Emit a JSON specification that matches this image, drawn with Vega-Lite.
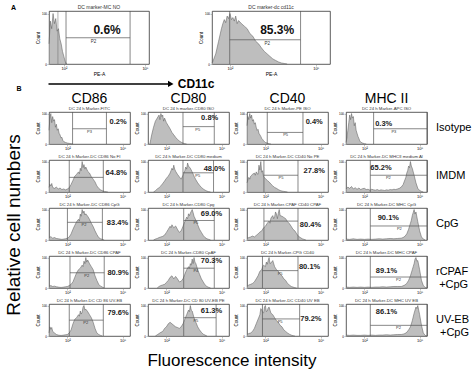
{
 "$schema": "https://vega.github.io/schema/vega-lite/v6.json",
 "background": "white",
 "padding": 4,
 "config": {"font": "Liberation Sans", "view": {"stroke": "#333", "strokeWidth": 0.8}, "axis": {"grid": false, "domain": false}},
 "spacing": 0,
 "datasets": {
  "b": [
   {"m":"CD86","t":"Isotype","x":1,"c":45},{"m":"CD86","t":"Isotype","x":1.05,"c":85},{"m":"CD86","t":"Isotype","x":1.1,"c":100},{"m":"CD86","t":"Isotype","x":1.15,"c":70},{"m":"CD86","t":"Isotype","x":1.2,"c":90},{"m":"CD86","t":"Isotype","x":1.25,"c":75},{"m":"CD86","t":"Isotype","x":1.3,"c":80},{"m":"CD86","t":"Isotype","x":1.35,"c":55},{"m":"CD86","t":"Isotype","x":1.4,"c":65},{"m":"CD86","t":"Isotype","x":1.45,"c":45},{"m":"CD86","t":"Isotype","x":1.5,"c":50},{"m":"CD86","t":"Isotype","x":1.55,"c":35},{"m":"CD86","t":"Isotype","x":1.6,"c":30},{"m":"CD86","t":"Isotype","x":1.65,"c":20},{"m":"CD86","t":"Isotype","x":1.7,"c":22},{"m":"CD86","t":"Isotype","x":1.75,"c":12},{"m":"CD86","t":"Isotype","x":1.8,"c":8},{"m":"CD86","t":"Isotype","x":1.9,"c":5},{"m":"CD86","t":"Isotype","x":2,"c":3},{"m":"CD86","t":"Isotype","x":2.1,"c":2},{"m":"CD86","t":"Isotype","x":2.2,"c":1},{"m":"CD86","t":"Isotype","x":2.3,"c":0},
   {"m":"CD80","t":"Isotype","x":1.1,"c":0},{"m":"CD80","t":"Isotype","x":1.15,"c":15},{"m":"CD80","t":"Isotype","x":1.2,"c":30},{"m":"CD80","t":"Isotype","x":1.3,"c":55},{"m":"CD80","t":"Isotype","x":1.4,"c":75},{"m":"CD80","t":"Isotype","x":1.5,"c":85},{"m":"CD80","t":"Isotype","x":1.6,"c":95},{"m":"CD80","t":"Isotype","x":1.65,"c":80},{"m":"CD80","t":"Isotype","x":1.7,"c":100},{"m":"CD80","t":"Isotype","x":1.75,"c":90},{"m":"CD80","t":"Isotype","x":1.8,"c":95},{"m":"CD80","t":"Isotype","x":1.85,"c":75},{"m":"CD80","t":"Isotype","x":1.9,"c":85},{"m":"CD80","t":"Isotype","x":2,"c":70},{"m":"CD80","t":"Isotype","x":2.1,"c":60},{"m":"CD80","t":"Isotype","x":2.2,"c":50},{"m":"CD80","t":"Isotype","x":2.3,"c":38},{"m":"CD80","t":"Isotype","x":2.4,"c":30},{"m":"CD80","t":"Isotype","x":2.5,"c":22},{"m":"CD80","t":"Isotype","x":2.6,"c":15},{"m":"CD80","t":"Isotype","x":2.7,"c":10},{"m":"CD80","t":"Isotype","x":2.8,"c":6},{"m":"CD80","t":"Isotype","x":2.9,"c":3},{"m":"CD80","t":"Isotype","x":3,"c":1},{"m":"CD80","t":"Isotype","x":3.1,"c":0},
   {"m":"CD40","t":"Isotype","x":1,"c":60},{"m":"CD40","t":"Isotype","x":1.05,"c":90},{"m":"CD40","t":"Isotype","x":1.1,"c":80},{"m":"CD40","t":"Isotype","x":1.15,"c":100},{"m":"CD40","t":"Isotype","x":1.2,"c":85},{"m":"CD40","t":"Isotype","x":1.25,"c":95},{"m":"CD40","t":"Isotype","x":1.3,"c":75},{"m":"CD40","t":"Isotype","x":1.35,"c":80},{"m":"CD40","t":"Isotype","x":1.4,"c":65},{"m":"CD40","t":"Isotype","x":1.45,"c":70},{"m":"CD40","t":"Isotype","x":1.5,"c":55},{"m":"CD40","t":"Isotype","x":1.55,"c":45},{"m":"CD40","t":"Isotype","x":1.6,"c":48},{"m":"CD40","t":"Isotype","x":1.65,"c":35},{"m":"CD40","t":"Isotype","x":1.7,"c":30},{"m":"CD40","t":"Isotype","x":1.75,"c":25},{"m":"CD40","t":"Isotype","x":1.8,"c":18},{"m":"CD40","t":"Isotype","x":1.85,"c":15},{"m":"CD40","t":"Isotype","x":1.9,"c":10},{"m":"CD40","t":"Isotype","x":1.95,"c":8},{"m":"CD40","t":"Isotype","x":2,"c":5},{"m":"CD40","t":"Isotype","x":2.1,"c":3},{"m":"CD40","t":"Isotype","x":2.2,"c":1},{"m":"CD40","t":"Isotype","x":2.3,"c":0},
   {"m":"MHC II","t":"Isotype","x":1,"c":5},{"m":"MHC II","t":"Isotype","x":1.05,"c":20},{"m":"MHC II","t":"Isotype","x":1.1,"c":45},{"m":"MHC II","t":"Isotype","x":1.15,"c":70},{"m":"MHC II","t":"Isotype","x":1.2,"c":95},{"m":"MHC II","t":"Isotype","x":1.25,"c":80},{"m":"MHC II","t":"Isotype","x":1.3,"c":100},{"m":"MHC II","t":"Isotype","x":1.35,"c":85},{"m":"MHC II","t":"Isotype","x":1.4,"c":90},{"m":"MHC II","t":"Isotype","x":1.45,"c":60},{"m":"MHC II","t":"Isotype","x":1.5,"c":70},{"m":"MHC II","t":"Isotype","x":1.55,"c":45},{"m":"MHC II","t":"Isotype","x":1.6,"c":35},{"m":"MHC II","t":"Isotype","x":1.65,"c":25},{"m":"MHC II","t":"Isotype","x":1.7,"c":18},{"m":"MHC II","t":"Isotype","x":1.75,"c":10},{"m":"MHC II","t":"Isotype","x":1.8,"c":6},{"m":"MHC II","t":"Isotype","x":1.9,"c":3},{"m":"MHC II","t":"Isotype","x":2,"c":1},{"m":"MHC II","t":"Isotype","x":2.1,"c":0},

   {"m":"CD86","t":"IMDM","x":1,"c":15},{"m":"CD86","t":"IMDM","x":1.05,"c":25},{"m":"CD86","t":"IMDM","x":1.1,"c":20},{"m":"CD86","t":"IMDM","x":1.15,"c":28},{"m":"CD86","t":"IMDM","x":1.2,"c":15},{"m":"CD86","t":"IMDM","x":1.3,"c":12},{"m":"CD86","t":"IMDM","x":1.4,"c":16},{"m":"CD86","t":"IMDM","x":1.5,"c":10},{"m":"CD86","t":"IMDM","x":1.6,"c":13},{"m":"CD86","t":"IMDM","x":1.7,"c":8},{"m":"CD86","t":"IMDM","x":1.8,"c":10},{"m":"CD86","t":"IMDM","x":1.9,"c":7},{"m":"CD86","t":"IMDM","x":2,"c":10},{"m":"CD86","t":"IMDM","x":2.1,"c":14},{"m":"CD86","t":"IMDM","x":2.2,"c":25},{"m":"CD86","t":"IMDM","x":2.3,"c":38},{"m":"CD86","t":"IMDM","x":2.4,"c":52},{"m":"CD86","t":"IMDM","x":2.5,"c":58},{"m":"CD86","t":"IMDM","x":2.6,"c":66},{"m":"CD86","t":"IMDM","x":2.65,"c":60},{"m":"CD86","t":"IMDM","x":2.7,"c":78},{"m":"CD86","t":"IMDM","x":2.75,"c":70},{"m":"CD86","t":"IMDM","x":2.8,"c":100},{"m":"CD86","t":"IMDM","x":2.85,"c":80},{"m":"CD86","t":"IMDM","x":2.9,"c":90},{"m":"CD86","t":"IMDM","x":2.95,"c":75},{"m":"CD86","t":"IMDM","x":3,"c":82},{"m":"CD86","t":"IMDM","x":3.1,"c":68},{"m":"CD86","t":"IMDM","x":3.2,"c":62},{"m":"CD86","t":"IMDM","x":3.3,"c":50},{"m":"CD86","t":"IMDM","x":3.4,"c":42},{"m":"CD86","t":"IMDM","x":3.5,"c":33},{"m":"CD86","t":"IMDM","x":3.6,"c":20},{"m":"CD86","t":"IMDM","x":3.7,"c":12},{"m":"CD86","t":"IMDM","x":3.8,"c":7},{"m":"CD86","t":"IMDM","x":3.9,"c":4},{"m":"CD86","t":"IMDM","x":4,"c":2},{"m":"CD86","t":"IMDM","x":4.2,"c":0},
   {"m":"CD80","t":"IMDM","x":1.3,"c":0},{"m":"CD80","t":"IMDM","x":1.4,"c":4},{"m":"CD80","t":"IMDM","x":1.5,"c":10},{"m":"CD80","t":"IMDM","x":1.6,"c":14},{"m":"CD80","t":"IMDM","x":1.7,"c":20},{"m":"CD80","t":"IMDM","x":1.8,"c":28},{"m":"CD80","t":"IMDM","x":1.9,"c":36},{"m":"CD80","t":"IMDM","x":2,"c":45},{"m":"CD80","t":"IMDM","x":2.1,"c":52},{"m":"CD80","t":"IMDM","x":2.2,"c":62},{"m":"CD80","t":"IMDM","x":2.25,"c":70},{"m":"CD80","t":"IMDM","x":2.3,"c":78},{"m":"CD80","t":"IMDM","x":2.35,"c":72},{"m":"CD80","t":"IMDM","x":2.4,"c":88},{"m":"CD80","t":"IMDM","x":2.45,"c":75},{"m":"CD80","t":"IMDM","x":2.5,"c":68},{"m":"CD80","t":"IMDM","x":2.6,"c":58},{"m":"CD80","t":"IMDM","x":2.7,"c":50},{"m":"CD80","t":"IMDM","x":2.8,"c":42},{"m":"CD80","t":"IMDM","x":2.9,"c":55},{"m":"CD80","t":"IMDM","x":3,"c":70},{"m":"CD80","t":"IMDM","x":3.05,"c":82},{"m":"CD80","t":"IMDM","x":3.1,"c":75},{"m":"CD80","t":"IMDM","x":3.15,"c":95},{"m":"CD80","t":"IMDM","x":3.2,"c":85},{"m":"CD80","t":"IMDM","x":3.3,"c":78},{"m":"CD80","t":"IMDM","x":3.4,"c":66},{"m":"CD80","t":"IMDM","x":3.5,"c":52},{"m":"CD80","t":"IMDM","x":3.6,"c":40},{"m":"CD80","t":"IMDM","x":3.7,"c":30},{"m":"CD80","t":"IMDM","x":3.8,"c":22},{"m":"CD80","t":"IMDM","x":3.9,"c":15},{"m":"CD80","t":"IMDM","x":4,"c":10},{"m":"CD80","t":"IMDM","x":4.1,"c":6},{"m":"CD80","t":"IMDM","x":4.2,"c":3},{"m":"CD80","t":"IMDM","x":4.3,"c":1},{"m":"CD80","t":"IMDM","x":4.4,"c":0},
   {"m":"CD40","t":"IMDM","x":1,"c":30},{"m":"CD40","t":"IMDM","x":1.05,"c":40},{"m":"CD40","t":"IMDM","x":1.1,"c":48},{"m":"CD40","t":"IMDM","x":1.15,"c":42},{"m":"CD40","t":"IMDM","x":1.2,"c":52},{"m":"CD40","t":"IMDM","x":1.3,"c":58},{"m":"CD40","t":"IMDM","x":1.4,"c":62},{"m":"CD40","t":"IMDM","x":1.45,"c":55},{"m":"CD40","t":"IMDM","x":1.5,"c":66},{"m":"CD40","t":"IMDM","x":1.55,"c":60},{"m":"CD40","t":"IMDM","x":1.6,"c":58},{"m":"CD40","t":"IMDM","x":1.65,"c":88},{"m":"CD40","t":"IMDM","x":1.7,"c":72},{"m":"CD40","t":"IMDM","x":1.75,"c":100},{"m":"CD40","t":"IMDM","x":1.8,"c":65},{"m":"CD40","t":"IMDM","x":1.85,"c":70},{"m":"CD40","t":"IMDM","x":1.9,"c":50},{"m":"CD40","t":"IMDM","x":2,"c":44},{"m":"CD40","t":"IMDM","x":2.1,"c":38},{"m":"CD40","t":"IMDM","x":2.2,"c":33},{"m":"CD40","t":"IMDM","x":2.3,"c":26},{"m":"CD40","t":"IMDM","x":2.4,"c":20},{"m":"CD40","t":"IMDM","x":2.5,"c":15},{"m":"CD40","t":"IMDM","x":2.6,"c":12},{"m":"CD40","t":"IMDM","x":2.7,"c":8},{"m":"CD40","t":"IMDM","x":2.8,"c":5},{"m":"CD40","t":"IMDM","x":2.9,"c":3},{"m":"CD40","t":"IMDM","x":3,"c":2},{"m":"CD40","t":"IMDM","x":3.2,"c":0},
   {"m":"MHC II","t":"IMDM","x":1,"c":10},{"m":"MHC II","t":"IMDM","x":1.1,"c":16},{"m":"MHC II","t":"IMDM","x":1.2,"c":12},{"m":"MHC II","t":"IMDM","x":1.3,"c":18},{"m":"MHC II","t":"IMDM","x":1.4,"c":10},{"m":"MHC II","t":"IMDM","x":1.5,"c":14},{"m":"MHC II","t":"IMDM","x":1.6,"c":9},{"m":"MHC II","t":"IMDM","x":1.7,"c":13},{"m":"MHC II","t":"IMDM","x":1.8,"c":8},{"m":"MHC II","t":"IMDM","x":1.9,"c":11},{"m":"MHC II","t":"IMDM","x":2,"c":12},{"m":"MHC II","t":"IMDM","x":2.1,"c":8},{"m":"MHC II","t":"IMDM","x":2.2,"c":9},{"m":"MHC II","t":"IMDM","x":2.3,"c":6},{"m":"MHC II","t":"IMDM","x":2.4,"c":9},{"m":"MHC II","t":"IMDM","x":2.5,"c":7},{"m":"MHC II","t":"IMDM","x":2.6,"c":6},{"m":"MHC II","t":"IMDM","x":2.7,"c":8},{"m":"MHC II","t":"IMDM","x":2.8,"c":5},{"m":"MHC II","t":"IMDM","x":2.9,"c":7},{"m":"MHC II","t":"IMDM","x":3,"c":6},{"m":"MHC II","t":"IMDM","x":3.1,"c":5},{"m":"MHC II","t":"IMDM","x":3.2,"c":7},{"m":"MHC II","t":"IMDM","x":3.3,"c":6},{"m":"MHC II","t":"IMDM","x":3.4,"c":8},{"m":"MHC II","t":"IMDM","x":3.5,"c":7},{"m":"MHC II","t":"IMDM","x":3.6,"c":9},{"m":"MHC II","t":"IMDM","x":3.7,"c":8},{"m":"MHC II","t":"IMDM","x":3.8,"c":10},{"m":"MHC II","t":"IMDM","x":3.9,"c":12},{"m":"MHC II","t":"IMDM","x":4,"c":16},{"m":"MHC II","t":"IMDM","x":4.1,"c":24},{"m":"MHC II","t":"IMDM","x":4.2,"c":40},{"m":"MHC II","t":"IMDM","x":4.25,"c":48},{"m":"MHC II","t":"IMDM","x":4.3,"c":62},{"m":"MHC II","t":"IMDM","x":4.35,"c":70},{"m":"MHC II","t":"IMDM","x":4.4,"c":85},{"m":"MHC II","t":"IMDM","x":4.45,"c":80},{"m":"MHC II","t":"IMDM","x":4.5,"c":100},{"m":"MHC II","t":"IMDM","x":4.55,"c":85},{"m":"MHC II","t":"IMDM","x":4.6,"c":78},{"m":"MHC II","t":"IMDM","x":4.7,"c":55},{"m":"MHC II","t":"IMDM","x":4.8,"c":30},{"m":"MHC II","t":"IMDM","x":4.9,"c":12},{"m":"MHC II","t":"IMDM","x":5,"c":5},{"m":"MHC II","t":"IMDM","x":5.1,"c":2},{"m":"MHC II","t":"IMDM","x":5.2,"c":0},

   {"m":"CD86","t":"CpG","x":1,"c":8},{"m":"CD86","t":"CpG","x":1.1,"c":11},{"m":"CD86","t":"CpG","x":1.2,"c":6},{"m":"CD86","t":"CpG","x":1.3,"c":8},{"m":"CD86","t":"CpG","x":1.4,"c":5},{"m":"CD86","t":"CpG","x":1.5,"c":4},{"m":"CD86","t":"CpG","x":1.6,"c":3},{"m":"CD86","t":"CpG","x":1.7,"c":2},{"m":"CD86","t":"CpG","x":1.8,"c":3},{"m":"CD86","t":"CpG","x":1.9,"c":4},{"m":"CD86","t":"CpG","x":2,"c":6},{"m":"CD86","t":"CpG","x":2.1,"c":10},{"m":"CD86","t":"CpG","x":2.2,"c":20},{"m":"CD86","t":"CpG","x":2.3,"c":35},{"m":"CD86","t":"CpG","x":2.4,"c":48},{"m":"CD86","t":"CpG","x":2.5,"c":60},{"m":"CD86","t":"CpG","x":2.6,"c":68},{"m":"CD86","t":"CpG","x":2.65,"c":62},{"m":"CD86","t":"CpG","x":2.7,"c":85},{"m":"CD86","t":"CpG","x":2.75,"c":78},{"m":"CD86","t":"CpG","x":2.8,"c":100},{"m":"CD86","t":"CpG","x":2.85,"c":88},{"m":"CD86","t":"CpG","x":2.9,"c":95},{"m":"CD86","t":"CpG","x":2.95,"c":82},{"m":"CD86","t":"CpG","x":3,"c":86},{"m":"CD86","t":"CpG","x":3.1,"c":78},{"m":"CD86","t":"CpG","x":3.2,"c":68},{"m":"CD86","t":"CpG","x":3.3,"c":55},{"m":"CD86","t":"CpG","x":3.4,"c":44},{"m":"CD86","t":"CpG","x":3.5,"c":30},{"m":"CD86","t":"CpG","x":3.6,"c":18},{"m":"CD86","t":"CpG","x":3.7,"c":8},{"m":"CD86","t":"CpG","x":3.8,"c":4},{"m":"CD86","t":"CpG","x":3.9,"c":2},{"m":"CD86","t":"CpG","x":4,"c":0},
   {"m":"CD80","t":"CpG","x":1.3,"c":0},{"m":"CD80","t":"CpG","x":1.4,"c":3},{"m":"CD80","t":"CpG","x":1.5,"c":5},{"m":"CD80","t":"CpG","x":1.6,"c":8},{"m":"CD80","t":"CpG","x":1.7,"c":10},{"m":"CD80","t":"CpG","x":1.8,"c":12},{"m":"CD80","t":"CpG","x":1.9,"c":16},{"m":"CD80","t":"CpG","x":2,"c":25},{"m":"CD80","t":"CpG","x":2.1,"c":35},{"m":"CD80","t":"CpG","x":2.2,"c":45},{"m":"CD80","t":"CpG","x":2.25,"c":40},{"m":"CD80","t":"CpG","x":2.3,"c":50},{"m":"CD80","t":"CpG","x":2.4,"c":40},{"m":"CD80","t":"CpG","x":2.5,"c":46},{"m":"CD80","t":"CpG","x":2.6,"c":35},{"m":"CD80","t":"CpG","x":2.7,"c":25},{"m":"CD80","t":"CpG","x":2.8,"c":30},{"m":"CD80","t":"CpG","x":2.9,"c":45},{"m":"CD80","t":"CpG","x":3,"c":60},{"m":"CD80","t":"CpG","x":3.1,"c":75},{"m":"CD80","t":"CpG","x":3.15,"c":70},{"m":"CD80","t":"CpG","x":3.2,"c":86},{"m":"CD80","t":"CpG","x":3.25,"c":80},{"m":"CD80","t":"CpG","x":3.3,"c":88},{"m":"CD80","t":"CpG","x":3.4,"c":100},{"m":"CD80","t":"CpG","x":3.45,"c":90},{"m":"CD80","t":"CpG","x":3.5,"c":78},{"m":"CD80","t":"CpG","x":3.6,"c":65},{"m":"CD80","t":"CpG","x":3.7,"c":50},{"m":"CD80","t":"CpG","x":3.8,"c":35},{"m":"CD80","t":"CpG","x":3.9,"c":25},{"m":"CD80","t":"CpG","x":4,"c":15},{"m":"CD80","t":"CpG","x":4.1,"c":8},{"m":"CD80","t":"CpG","x":4.2,"c":4},{"m":"CD80","t":"CpG","x":4.3,"c":2},{"m":"CD80","t":"CpG","x":4.4,"c":0},
   {"m":"CD40","t":"CpG","x":1,"c":5},{"m":"CD40","t":"CpG","x":1.1,"c":8},{"m":"CD40","t":"CpG","x":1.2,"c":10},{"m":"CD40","t":"CpG","x":1.3,"c":13},{"m":"CD40","t":"CpG","x":1.4,"c":10},{"m":"CD40","t":"CpG","x":1.5,"c":15},{"m":"CD40","t":"CpG","x":1.6,"c":20},{"m":"CD40","t":"CpG","x":1.7,"c":26},{"m":"CD40","t":"CpG","x":1.8,"c":30},{"m":"CD40","t":"CpG","x":1.9,"c":40},{"m":"CD40","t":"CpG","x":2,"c":45},{"m":"CD40","t":"CpG","x":2.1,"c":55},{"m":"CD40","t":"CpG","x":2.2,"c":62},{"m":"CD40","t":"CpG","x":2.25,"c":55},{"m":"CD40","t":"CpG","x":2.3,"c":72},{"m":"CD40","t":"CpG","x":2.4,"c":80},{"m":"CD40","t":"CpG","x":2.45,"c":70},{"m":"CD40","t":"CpG","x":2.5,"c":76},{"m":"CD40","t":"CpG","x":2.55,"c":92},{"m":"CD40","t":"CpG","x":2.6,"c":85},{"m":"CD40","t":"CpG","x":2.65,"c":70},{"m":"CD40","t":"CpG","x":2.7,"c":88},{"m":"CD40","t":"CpG","x":2.75,"c":100},{"m":"CD40","t":"CpG","x":2.8,"c":80},{"m":"CD40","t":"CpG","x":2.9,"c":78},{"m":"CD40","t":"CpG","x":3,"c":74},{"m":"CD40","t":"CpG","x":3.1,"c":70},{"m":"CD40","t":"CpG","x":3.2,"c":60},{"m":"CD40","t":"CpG","x":3.3,"c":54},{"m":"CD40","t":"CpG","x":3.4,"c":45},{"m":"CD40","t":"CpG","x":3.5,"c":35},{"m":"CD40","t":"CpG","x":3.6,"c":30},{"m":"CD40","t":"CpG","x":3.7,"c":20},{"m":"CD40","t":"CpG","x":3.8,"c":12},{"m":"CD40","t":"CpG","x":3.9,"c":8},{"m":"CD40","t":"CpG","x":4,"c":4},{"m":"CD40","t":"CpG","x":4.1,"c":2},{"m":"CD40","t":"CpG","x":4.2,"c":0},
   {"m":"MHC II","t":"CpG","x":1,"c":3},{"m":"MHC II","t":"CpG","x":1.2,"c":2},{"m":"MHC II","t":"CpG","x":1.4,"c":4},{"m":"MHC II","t":"CpG","x":1.6,"c":2},{"m":"MHC II","t":"CpG","x":1.8,"c":3},{"m":"MHC II","t":"CpG","x":2,"c":2},{"m":"MHC II","t":"CpG","x":2.2,"c":3},{"m":"MHC II","t":"CpG","x":2.4,"c":2},{"m":"MHC II","t":"CpG","x":2.6,"c":3},{"m":"MHC II","t":"CpG","x":2.8,"c":4},{"m":"MHC II","t":"CpG","x":3,"c":3},{"m":"MHC II","t":"CpG","x":3.2,"c":4},{"m":"MHC II","t":"CpG","x":3.4,"c":5},{"m":"MHC II","t":"CpG","x":3.6,"c":4},{"m":"MHC II","t":"CpG","x":3.8,"c":5},{"m":"MHC II","t":"CpG","x":4,"c":6},{"m":"MHC II","t":"CpG","x":4.1,"c":8},{"m":"MHC II","t":"CpG","x":4.2,"c":12},{"m":"MHC II","t":"CpG","x":4.3,"c":20},{"m":"MHC II","t":"CpG","x":4.4,"c":35},{"m":"MHC II","t":"CpG","x":4.5,"c":55},{"m":"MHC II","t":"CpG","x":4.55,"c":65},{"m":"MHC II","t":"CpG","x":4.6,"c":80},{"m":"MHC II","t":"CpG","x":4.65,"c":90},{"m":"MHC II","t":"CpG","x":4.7,"c":100},{"m":"MHC II","t":"CpG","x":4.75,"c":85},{"m":"MHC II","t":"CpG","x":4.8,"c":92},{"m":"MHC II","t":"CpG","x":4.9,"c":60},{"m":"MHC II","t":"CpG","x":5,"c":30},{"m":"MHC II","t":"CpG","x":5.1,"c":10},{"m":"MHC II","t":"CpG","x":5.2,"c":3},{"m":"MHC II","t":"CpG","x":5.3,"c":0},

   {"m":"CD86","t":"rCPAF|+CpG","x":1,"c":5},{"m":"CD86","t":"rCPAF|+CpG","x":1.1,"c":8},{"m":"CD86","t":"rCPAF|+CpG","x":1.2,"c":5},{"m":"CD86","t":"rCPAF|+CpG","x":1.3,"c":6},{"m":"CD86","t":"rCPAF|+CpG","x":1.4,"c":4},{"m":"CD86","t":"rCPAF|+CpG","x":1.5,"c":3},{"m":"CD86","t":"rCPAF|+CpG","x":1.6,"c":2},{"m":"CD86","t":"rCPAF|+CpG","x":1.7,"c":2},{"m":"CD86","t":"rCPAF|+CpG","x":1.8,"c":3},{"m":"CD86","t":"rCPAF|+CpG","x":1.9,"c":4},{"m":"CD86","t":"rCPAF|+CpG","x":2,"c":5},{"m":"CD86","t":"rCPAF|+CpG","x":2.1,"c":8},{"m":"CD86","t":"rCPAF|+CpG","x":2.2,"c":12},{"m":"CD86","t":"rCPAF|+CpG","x":2.3,"c":20},{"m":"CD86","t":"rCPAF|+CpG","x":2.4,"c":35},{"m":"CD86","t":"rCPAF|+CpG","x":2.5,"c":50},{"m":"CD86","t":"rCPAF|+CpG","x":2.6,"c":60},{"m":"CD86","t":"rCPAF|+CpG","x":2.7,"c":65},{"m":"CD86","t":"rCPAF|+CpG","x":2.8,"c":75},{"m":"CD86","t":"rCPAF|+CpG","x":2.85,"c":70},{"m":"CD86","t":"rCPAF|+CpG","x":2.9,"c":88},{"m":"CD86","t":"rCPAF|+CpG","x":2.95,"c":80},{"m":"CD86","t":"rCPAF|+CpG","x":3,"c":100},{"m":"CD86","t":"rCPAF|+CpG","x":3.05,"c":85},{"m":"CD86","t":"rCPAF|+CpG","x":3.1,"c":92},{"m":"CD86","t":"rCPAF|+CpG","x":3.2,"c":80},{"m":"CD86","t":"rCPAF|+CpG","x":3.3,"c":70},{"m":"CD86","t":"rCPAF|+CpG","x":3.4,"c":60},{"m":"CD86","t":"rCPAF|+CpG","x":3.5,"c":40},{"m":"CD86","t":"rCPAF|+CpG","x":3.6,"c":25},{"m":"CD86","t":"rCPAF|+CpG","x":3.7,"c":12},{"m":"CD86","t":"rCPAF|+CpG","x":3.8,"c":6},{"m":"CD86","t":"rCPAF|+CpG","x":3.9,"c":3},{"m":"CD86","t":"rCPAF|+CpG","x":4,"c":0},
   {"m":"CD80","t":"rCPAF|+CpG","x":1.5,"c":0},{"m":"CD80","t":"rCPAF|+CpG","x":1.6,"c":5},{"m":"CD80","t":"rCPAF|+CpG","x":1.7,"c":8},{"m":"CD80","t":"rCPAF|+CpG","x":1.8,"c":10},{"m":"CD80","t":"rCPAF|+CpG","x":1.9,"c":12},{"m":"CD80","t":"rCPAF|+CpG","x":2,"c":18},{"m":"CD80","t":"rCPAF|+CpG","x":2.1,"c":25},{"m":"CD80","t":"rCPAF|+CpG","x":2.2,"c":35},{"m":"CD80","t":"rCPAF|+CpG","x":2.3,"c":40},{"m":"CD80","t":"rCPAF|+CpG","x":2.4,"c":30},{"m":"CD80","t":"rCPAF|+CpG","x":2.5,"c":38},{"m":"CD80","t":"rCPAF|+CpG","x":2.6,"c":30},{"m":"CD80","t":"rCPAF|+CpG","x":2.7,"c":20},{"m":"CD80","t":"rCPAF|+CpG","x":2.8,"c":22},{"m":"CD80","t":"rCPAF|+CpG","x":2.9,"c":30},{"m":"CD80","t":"rCPAF|+CpG","x":3,"c":45},{"m":"CD80","t":"rCPAF|+CpG","x":3.1,"c":60},{"m":"CD80","t":"rCPAF|+CpG","x":3.2,"c":70},{"m":"CD80","t":"rCPAF|+CpG","x":3.25,"c":65},{"m":"CD80","t":"rCPAF|+CpG","x":3.3,"c":80},{"m":"CD80","t":"rCPAF|+CpG","x":3.35,"c":75},{"m":"CD80","t":"rCPAF|+CpG","x":3.4,"c":95},{"m":"CD80","t":"rCPAF|+CpG","x":3.45,"c":80},{"m":"CD80","t":"rCPAF|+CpG","x":3.5,"c":100},{"m":"CD80","t":"rCPAF|+CpG","x":3.55,"c":85},{"m":"CD80","t":"rCPAF|+CpG","x":3.6,"c":80},{"m":"CD80","t":"rCPAF|+CpG","x":3.7,"c":60},{"m":"CD80","t":"rCPAF|+CpG","x":3.8,"c":45},{"m":"CD80","t":"rCPAF|+CpG","x":3.9,"c":30},{"m":"CD80","t":"rCPAF|+CpG","x":4,"c":20},{"m":"CD80","t":"rCPAF|+CpG","x":4.1,"c":10},{"m":"CD80","t":"rCPAF|+CpG","x":4.2,"c":5},{"m":"CD80","t":"rCPAF|+CpG","x":4.3,"c":2},{"m":"CD80","t":"rCPAF|+CpG","x":4.4,"c":0},
   {"m":"CD40","t":"rCPAF|+CpG","x":1,"c":5},{"m":"CD40","t":"rCPAF|+CpG","x":1.1,"c":10},{"m":"CD40","t":"rCPAF|+CpG","x":1.2,"c":12},{"m":"CD40","t":"rCPAF|+CpG","x":1.3,"c":15},{"m":"CD40","t":"rCPAF|+CpG","x":1.4,"c":20},{"m":"CD40","t":"rCPAF|+CpG","x":1.5,"c":30},{"m":"CD40","t":"rCPAF|+CpG","x":1.6,"c":40},{"m":"CD40","t":"rCPAF|+CpG","x":1.7,"c":55},{"m":"CD40","t":"rCPAF|+CpG","x":1.8,"c":60},{"m":"CD40","t":"rCPAF|+CpG","x":1.85,"c":70},{"m":"CD40","t":"rCPAF|+CpG","x":1.9,"c":75},{"m":"CD40","t":"rCPAF|+CpG","x":2,"c":70},{"m":"CD40","t":"rCPAF|+CpG","x":2.05,"c":85},{"m":"CD40","t":"rCPAF|+CpG","x":2.1,"c":78},{"m":"CD40","t":"rCPAF|+CpG","x":2.15,"c":90},{"m":"CD40","t":"rCPAF|+CpG","x":2.2,"c":100},{"m":"CD40","t":"rCPAF|+CpG","x":2.25,"c":80},{"m":"CD40","t":"rCPAF|+CpG","x":2.3,"c":82},{"m":"CD40","t":"rCPAF|+CpG","x":2.4,"c":90},{"m":"CD40","t":"rCPAF|+CpG","x":2.5,"c":70},{"m":"CD40","t":"rCPAF|+CpG","x":2.6,"c":60},{"m":"CD40","t":"rCPAF|+CpG","x":2.7,"c":55},{"m":"CD40","t":"rCPAF|+CpG","x":2.8,"c":45},{"m":"CD40","t":"rCPAF|+CpG","x":2.9,"c":40},{"m":"CD40","t":"rCPAF|+CpG","x":3,"c":30},{"m":"CD40","t":"rCPAF|+CpG","x":3.1,"c":25},{"m":"CD40","t":"rCPAF|+CpG","x":3.2,"c":15},{"m":"CD40","t":"rCPAF|+CpG","x":3.3,"c":10},{"m":"CD40","t":"rCPAF|+CpG","x":3.4,"c":5},{"m":"CD40","t":"rCPAF|+CpG","x":3.5,"c":3},{"m":"CD40","t":"rCPAF|+CpG","x":3.6,"c":1},{"m":"CD40","t":"rCPAF|+CpG","x":3.7,"c":0},
   {"m":"MHC II","t":"rCPAF|+CpG","x":1,"c":3},{"m":"MHC II","t":"rCPAF|+CpG","x":1.2,"c":2},{"m":"MHC II","t":"rCPAF|+CpG","x":1.4,"c":3},{"m":"MHC II","t":"rCPAF|+CpG","x":1.6,"c":2},{"m":"MHC II","t":"rCPAF|+CpG","x":1.8,"c":3},{"m":"MHC II","t":"rCPAF|+CpG","x":2,"c":2},{"m":"MHC II","t":"rCPAF|+CpG","x":2.2,"c":3},{"m":"MHC II","t":"rCPAF|+CpG","x":2.4,"c":2},{"m":"MHC II","t":"rCPAF|+CpG","x":2.6,"c":3},{"m":"MHC II","t":"rCPAF|+CpG","x":2.8,"c":3},{"m":"MHC II","t":"rCPAF|+CpG","x":3,"c":4},{"m":"MHC II","t":"rCPAF|+CpG","x":3.2,"c":3},{"m":"MHC II","t":"rCPAF|+CpG","x":3.4,"c":4},{"m":"MHC II","t":"rCPAF|+CpG","x":3.6,"c":5},{"m":"MHC II","t":"rCPAF|+CpG","x":3.8,"c":5},{"m":"MHC II","t":"rCPAF|+CpG","x":4,"c":5},{"m":"MHC II","t":"rCPAF|+CpG","x":4.1,"c":7},{"m":"MHC II","t":"rCPAF|+CpG","x":4.2,"c":10},{"m":"MHC II","t":"rCPAF|+CpG","x":4.3,"c":15},{"m":"MHC II","t":"rCPAF|+CpG","x":4.4,"c":25},{"m":"MHC II","t":"rCPAF|+CpG","x":4.5,"c":40},{"m":"MHC II","t":"rCPAF|+CpG","x":4.6,"c":60},{"m":"MHC II","t":"rCPAF|+CpG","x":4.65,"c":70},{"m":"MHC II","t":"rCPAF|+CpG","x":4.7,"c":80},{"m":"MHC II","t":"rCPAF|+CpG","x":4.75,"c":95},{"m":"MHC II","t":"rCPAF|+CpG","x":4.8,"c":100},{"m":"MHC II","t":"rCPAF|+CpG","x":4.85,"c":88},{"m":"MHC II","t":"rCPAF|+CpG","x":4.9,"c":90},{"m":"MHC II","t":"rCPAF|+CpG","x":5,"c":60},{"m":"MHC II","t":"rCPAF|+CpG","x":5.1,"c":25},{"m":"MHC II","t":"rCPAF|+CpG","x":5.2,"c":8},{"m":"MHC II","t":"rCPAF|+CpG","x":5.3,"c":2},{"m":"MHC II","t":"rCPAF|+CpG","x":5.4,"c":0},

   {"m":"CD86","t":"UV-EB|+CpG","x":1,"c":10},{"m":"CD86","t":"UV-EB|+CpG","x":1.05,"c":30},{"m":"CD86","t":"UV-EB|+CpG","x":1.1,"c":22},{"m":"CD86","t":"UV-EB|+CpG","x":1.15,"c":28},{"m":"CD86","t":"UV-EB|+CpG","x":1.2,"c":15},{"m":"CD86","t":"UV-EB|+CpG","x":1.3,"c":10},{"m":"CD86","t":"UV-EB|+CpG","x":1.4,"c":5},{"m":"CD86","t":"UV-EB|+CpG","x":1.5,"c":3},{"m":"CD86","t":"UV-EB|+CpG","x":1.6,"c":2},{"m":"CD86","t":"UV-EB|+CpG","x":1.7,"c":2},{"m":"CD86","t":"UV-EB|+CpG","x":1.8,"c":3},{"m":"CD86","t":"UV-EB|+CpG","x":1.9,"c":4},{"m":"CD86","t":"UV-EB|+CpG","x":2,"c":5},{"m":"CD86","t":"UV-EB|+CpG","x":2.1,"c":10},{"m":"CD86","t":"UV-EB|+CpG","x":2.2,"c":20},{"m":"CD86","t":"UV-EB|+CpG","x":2.3,"c":40},{"m":"CD86","t":"UV-EB|+CpG","x":2.4,"c":55},{"m":"CD86","t":"UV-EB|+CpG","x":2.5,"c":60},{"m":"CD86","t":"UV-EB|+CpG","x":2.6,"c":70},{"m":"CD86","t":"UV-EB|+CpG","x":2.65,"c":65},{"m":"CD86","t":"UV-EB|+CpG","x":2.7,"c":82},{"m":"CD86","t":"UV-EB|+CpG","x":2.75,"c":72},{"m":"CD86","t":"UV-EB|+CpG","x":2.8,"c":78},{"m":"CD86","t":"UV-EB|+CpG","x":2.85,"c":95},{"m":"CD86","t":"UV-EB|+CpG","x":2.9,"c":100},{"m":"CD86","t":"UV-EB|+CpG","x":2.95,"c":85},{"m":"CD86","t":"UV-EB|+CpG","x":3,"c":88},{"m":"CD86","t":"UV-EB|+CpG","x":3.1,"c":80},{"m":"CD86","t":"UV-EB|+CpG","x":3.2,"c":70},{"m":"CD86","t":"UV-EB|+CpG","x":3.3,"c":60},{"m":"CD86","t":"UV-EB|+CpG","x":3.4,"c":45},{"m":"CD86","t":"UV-EB|+CpG","x":3.5,"c":25},{"m":"CD86","t":"UV-EB|+CpG","x":3.6,"c":10},{"m":"CD86","t":"UV-EB|+CpG","x":3.7,"c":5},{"m":"CD86","t":"UV-EB|+CpG","x":3.8,"c":2},{"m":"CD86","t":"UV-EB|+CpG","x":3.9,"c":0},
   {"m":"CD80","t":"UV-EB|+CpG","x":1.4,"c":0},{"m":"CD80","t":"UV-EB|+CpG","x":1.5,"c":4},{"m":"CD80","t":"UV-EB|+CpG","x":1.6,"c":8},{"m":"CD80","t":"UV-EB|+CpG","x":1.7,"c":12},{"m":"CD80","t":"UV-EB|+CpG","x":1.8,"c":15},{"m":"CD80","t":"UV-EB|+CpG","x":1.9,"c":25},{"m":"CD80","t":"UV-EB|+CpG","x":2,"c":30},{"m":"CD80","t":"UV-EB|+CpG","x":2.1,"c":40},{"m":"CD80","t":"UV-EB|+CpG","x":2.2,"c":45},{"m":"CD80","t":"UV-EB|+CpG","x":2.3,"c":40},{"m":"CD80","t":"UV-EB|+CpG","x":2.4,"c":35},{"m":"CD80","t":"UV-EB|+CpG","x":2.5,"c":30},{"m":"CD80","t":"UV-EB|+CpG","x":2.6,"c":28},{"m":"CD80","t":"UV-EB|+CpG","x":2.7,"c":25},{"m":"CD80","t":"UV-EB|+CpG","x":2.8,"c":30},{"m":"CD80","t":"UV-EB|+CpG","x":2.9,"c":40},{"m":"CD80","t":"UV-EB|+CpG","x":3,"c":55},{"m":"CD80","t":"UV-EB|+CpG","x":3.1,"c":70},{"m":"CD80","t":"UV-EB|+CpG","x":3.2,"c":85},{"m":"CD80","t":"UV-EB|+CpG","x":3.25,"c":80},{"m":"CD80","t":"UV-EB|+CpG","x":3.3,"c":100},{"m":"CD80","t":"UV-EB|+CpG","x":3.35,"c":85},{"m":"CD80","t":"UV-EB|+CpG","x":3.4,"c":82},{"m":"CD80","t":"UV-EB|+CpG","x":3.5,"c":60},{"m":"CD80","t":"UV-EB|+CpG","x":3.6,"c":45},{"m":"CD80","t":"UV-EB|+CpG","x":3.7,"c":30},{"m":"CD80","t":"UV-EB|+CpG","x":3.8,"c":20},{"m":"CD80","t":"UV-EB|+CpG","x":3.9,"c":12},{"m":"CD80","t":"UV-EB|+CpG","x":4,"c":6},{"m":"CD80","t":"UV-EB|+CpG","x":4.1,"c":3},{"m":"CD80","t":"UV-EB|+CpG","x":4.2,"c":0},
   {"m":"CD40","t":"UV-EB|+CpG","x":1,"c":5},{"m":"CD40","t":"UV-EB|+CpG","x":1.1,"c":8},{"m":"CD40","t":"UV-EB|+CpG","x":1.2,"c":10},{"m":"CD40","t":"UV-EB|+CpG","x":1.3,"c":15},{"m":"CD40","t":"UV-EB|+CpG","x":1.4,"c":25},{"m":"CD40","t":"UV-EB|+CpG","x":1.5,"c":40},{"m":"CD40","t":"UV-EB|+CpG","x":1.6,"c":55},{"m":"CD40","t":"UV-EB|+CpG","x":1.65,"c":62},{"m":"CD40","t":"UV-EB|+CpG","x":1.7,"c":70},{"m":"CD40","t":"UV-EB|+CpG","x":1.75,"c":90},{"m":"CD40","t":"UV-EB|+CpG","x":1.8,"c":85},{"m":"CD40","t":"UV-EB|+CpG","x":1.85,"c":78},{"m":"CD40","t":"UV-EB|+CpG","x":1.9,"c":75},{"m":"CD40","t":"UV-EB|+CpG","x":1.95,"c":95},{"m":"CD40","t":"UV-EB|+CpG","x":2,"c":100},{"m":"CD40","t":"UV-EB|+CpG","x":2.05,"c":80},{"m":"CD40","t":"UV-EB|+CpG","x":2.1,"c":82},{"m":"CD40","t":"UV-EB|+CpG","x":2.15,"c":92},{"m":"CD40","t":"UV-EB|+CpG","x":2.2,"c":95},{"m":"CD40","t":"UV-EB|+CpG","x":2.3,"c":75},{"m":"CD40","t":"UV-EB|+CpG","x":2.4,"c":70},{"m":"CD40","t":"UV-EB|+CpG","x":2.5,"c":60},{"m":"CD40","t":"UV-EB|+CpG","x":2.6,"c":50},{"m":"CD40","t":"UV-EB|+CpG","x":2.7,"c":45},{"m":"CD40","t":"UV-EB|+CpG","x":2.8,"c":35},{"m":"CD40","t":"UV-EB|+CpG","x":2.9,"c":30},{"m":"CD40","t":"UV-EB|+CpG","x":3,"c":20},{"m":"CD40","t":"UV-EB|+CpG","x":3.1,"c":15},{"m":"CD40","t":"UV-EB|+CpG","x":3.2,"c":10},{"m":"CD40","t":"UV-EB|+CpG","x":3.3,"c":6},{"m":"CD40","t":"UV-EB|+CpG","x":3.4,"c":3},{"m":"CD40","t":"UV-EB|+CpG","x":3.5,"c":1},{"m":"CD40","t":"UV-EB|+CpG","x":3.6,"c":0},
   {"m":"MHC II","t":"UV-EB|+CpG","x":1,"c":3},{"m":"MHC II","t":"UV-EB|+CpG","x":1.2,"c":2},{"m":"MHC II","t":"UV-EB|+CpG","x":1.4,"c":3},{"m":"MHC II","t":"UV-EB|+CpG","x":1.6,"c":2},{"m":"MHC II","t":"UV-EB|+CpG","x":1.8,"c":2},{"m":"MHC II","t":"UV-EB|+CpG","x":2,"c":3},{"m":"MHC II","t":"UV-EB|+CpG","x":2.2,"c":2},{"m":"MHC II","t":"UV-EB|+CpG","x":2.4,"c":3},{"m":"MHC II","t":"UV-EB|+CpG","x":2.6,"c":2},{"m":"MHC II","t":"UV-EB|+CpG","x":2.8,"c":3},{"m":"MHC II","t":"UV-EB|+CpG","x":3,"c":3},{"m":"MHC II","t":"UV-EB|+CpG","x":3.2,"c":4},{"m":"MHC II","t":"UV-EB|+CpG","x":3.4,"c":3},{"m":"MHC II","t":"UV-EB|+CpG","x":3.6,"c":4},{"m":"MHC II","t":"UV-EB|+CpG","x":3.8,"c":5},{"m":"MHC II","t":"UV-EB|+CpG","x":4,"c":5},{"m":"MHC II","t":"UV-EB|+CpG","x":4.1,"c":6},{"m":"MHC II","t":"UV-EB|+CpG","x":4.2,"c":8},{"m":"MHC II","t":"UV-EB|+CpG","x":4.3,"c":12},{"m":"MHC II","t":"UV-EB|+CpG","x":4.4,"c":20},{"m":"MHC II","t":"UV-EB|+CpG","x":4.5,"c":30},{"m":"MHC II","t":"UV-EB|+CpG","x":4.6,"c":50},{"m":"MHC II","t":"UV-EB|+CpG","x":4.7,"c":75},{"m":"MHC II","t":"UV-EB|+CpG","x":4.75,"c":85},{"m":"MHC II","t":"UV-EB|+CpG","x":4.8,"c":95},{"m":"MHC II","t":"UV-EB|+CpG","x":4.85,"c":90},{"m":"MHC II","t":"UV-EB|+CpG","x":4.9,"c":100},{"m":"MHC II","t":"UV-EB|+CpG","x":5,"c":70},{"m":"MHC II","t":"UV-EB|+CpG","x":5.1,"c":35},{"m":"MHC II","t":"UV-EB|+CpG","x":5.2,"c":10},{"m":"MHC II","t":"UV-EB|+CpG","x":5.3,"c":2},{"m":"MHC II","t":"UV-EB|+CpG","x":5.4,"c":0},

   {"m":"CD86","t":"Isotype","lo":2.28,"hi":4.12,"lv":50,"p":"0.2%","lx":4.75,"ly":72,"g":"P3","gx":3.2,"s":"DC 24 h Marker-FITC"},
   {"m":"CD80","t":"Isotype","lo":2.9,"hi":4.6,"lv":57,"p":"0.8%","lx":4.35,"ly":85,"g":"P5","gx":3.7,"s":"DC 24 h marker-CD80 ISO"},
   {"m":"CD40","t":"Isotype","lo":2.1,"hi":4.04,"lv":38,"p":"0.4%","lx":4.65,"ly":72,"g":"P5","gx":3.1,"s":"DC 24 h Marker-PE ISO"},
   {"m":"MHC II","t":"Isotype","lo":2.5,"hi":5.4,"lv":50,"p":"0.3%","lx":3.05,"ly":66,"g":"P3","gx":3.6,"s":"DC 24 h Marker-APC ISO"},
   {"m":"CD86","t":"IMDM","lo":2.1,"hi":3.95,"lv":48,"p":"64.8%","lx":4.65,"ly":62,"g":"","gx":3.0,"s":"DC 24 h Marker-DC CD86 No FI"},
   {"m":"CD80","t":"IMDM","lo":2.9,"hi":4.56,"lv":63,"p":"48.0%","lx":4.6,"ly":76,"g":"P5","gx":3.7,"s":"DC 24 h Marker-DC CD80 medium"},
   {"m":"CD40","t":"IMDM","lo":1.92,"hi":3.77,"lv":55,"p":"27.8%","lx":4.65,"ly":70,"g":"P5","gx":2.85,"s":"DC 24 h Marker-DC CD40 No PE"},
   {"m":"MHC II","t":"IMDM","lo":2.32,"hi":5.4,"lv":55,"p":"65.2%","lx":2.9,"ly":78,"g":"P2","gx":3.3,"s":"DC 24 h Marker-DC MHCII medium Al"},
   {"m":"CD86","t":"CpG","lo":2.0,"hi":3.9,"lv":58,"p":"83.4%","lx":4.72,"ly":55,"g":"P2","gx":2.9,"s":"DC 24 h Marker-DC CD86 CpG"},
   {"m":"CD80","t":"CpG","lo":2.94,"hi":4.6,"lv":64,"p":"69.0%","lx":4.45,"ly":85,"g":"P5","gx":3.6,"s":"DC 24 h Marker-CD80 Cpg"},
   {"m":"CD40","t":"CpG","lo":1.92,"hi":3.77,"lv":62,"p":"80.4%","lx":4.45,"ly":50,"g":"","gx":2.85,"s":"DC 24 h Marker-CPAF CD40 CPAF"},
   {"m":"MHC II","t":"CpG","lo":2.32,"hi":5.4,"lv":46,"p":"90.1%","lx":3.3,"ly":72,"g":"P2","gx":3.9,"s":"DC 24 h Marker-DC MHC CpG"},
   {"m":"CD86","t":"rCPAF|+CpG","lo":2.14,"hi":4.0,"lv":50,"p":"80.9%","lx":4.75,"ly":50,"g":"P2","gx":3.05,"s":"DC 24 h Marker-DC CD86 CPAF"},
   {"m":"CD80","t":"rCPAF|+CpG","lo":2.94,"hi":4.6,"lv":65,"p":"70.3%","lx":4.45,"ly":88,"g":"P4","gx":3.6,"s":"DC 24 h Marker-CD80 CpAF"},
   {"m":"CD40","t":"rCPAF|+CpG","lo":1.84,"hi":3.77,"lv":57,"p":"80.1%","lx":4.4,"ly":68,"g":"P5","gx":2.8,"s":"DC 24 h Marker-CPG CD40"},
   {"m":"MHC II","t":"rCPAF|+CpG","lo":2.32,"hi":5.4,"lv":36,"p":"89.1%","lx":3.2,"ly":55,"g":"P2","gx":3.85,"s":"DC 24 h Marker-DC MHC CPAF"},
   {"m":"CD86","t":"UV-EB|+CpG","lo":2.1,"hi":3.95,"lv":52,"p":"79.6%","lx":4.75,"ly":75,"g":"P2","gx":3.0,"s":"DC 24 h Marker-DC CD 86 UV-EB"},
   {"m":"CD80","t":"UV-EB|+CpG","lo":2.94,"hi":4.7,"lv":60,"p":"61.3%","lx":4.45,"ly":82,"g":"P5","gx":3.6,"s":"DC 24 h Marker-DC CD 80 UV-EB PE"},
   {"m":"CD40","t":"UV-EB|+CpG","lo":1.84,"hi":3.86,"lv":56,"p":"79.2%","lx":4.47,"ly":55,"g":"P5","gx":2.8,"s":"DC 24 h Marker-DC CD40 UV EB"},
   {"m":"MHC II","t":"UV-EB|+CpG","lo":2.32,"hi":5.4,"lv":35,"p":"86.1%","lx":3.2,"ly":78,"g":"P2","gx":3.85,"s":"DC 24 h Marker-DC MHC UV EB"}
  ]
 },
 "vconcat": [
  {
   "title": {"text": "A", "orient": "left", "anchor": "end", "angle": 0, "fontSize": 7, "fontWeight": "bold", "offset": 14, "baseline": "top"},
   "spacing": 48,
   "hconcat": [
    {
     "width": 100, "height": 53,
     "title": {"text": "DC marker-MC NO", "fontSize": 5, "fontWeight": "normal", "offset": 1, "color": "#333"},
     "layer": [
      {
       "data": {"values": [{"x":1.45,"c":40},{"x":1.5,"c":85},{"x":1.55,"c":70},{"x":1.6,"c":100},{"x":1.65,"c":80},{"x":1.7,"c":90},{"x":1.75,"c":65},{"x":1.8,"c":70},{"x":1.85,"c":50},{"x":1.9,"c":40},{"x":1.95,"c":25},{"x":2,"c":15},{"x":2.05,"c":5},{"x":2.1,"c":0}]},
       "mark": {"type": "area", "color": "#a3a3a3", "line": {"color": "#555", "strokeWidth": 0.5}},
       "encoding": {
        "x": {"field": "x", "type": "quantitative", "scale": {"domain": [1.45, 5.15], "nice": false, "zero": false}, "axis": {"title": "PE-A", "titleFontSize": 5, "titleFontWeight": "normal", "titlePadding": 1, "values": [2,3,4,5], "labelExpr": "datum.value==2?'10²':datum.value==3?'10³':datum.value==4?'10⁴':'10⁵'", "labelFontSize": 4, "tickSize": 2, "tickWidth": 0.5, "labelPadding": 0.5}},
        "y": {"field": "c", "type": "quantitative", "scale": {"domain": [0, 105], "nice": false}, "axis": {"title": "Count", "titleFontSize": 4.5, "titleFontWeight": "normal", "titlePadding": 1, "values": [0,20,40,60,80,100], "labelFontSize": 3, "tickSize": 2, "tickWidth": 0.5, "labelPadding": 0.5}}
       }
      },
      {
       "data": {"values": [{"lo":2.08,"hi":4.45,"lv":52,"v":1.78,"p":"0.6%","lx":3.6,"ly":68,"g":"P2","gx":3.1}]},
       "layer": [
        {"mark": {"type": "rule", "color": "#555", "strokeWidth": 0.7}, "encoding": {"x": {"field": "lo", "type": "quantitative"}}},
        {"mark": {"type": "rule", "color": "#555", "strokeWidth": 0.7}, "encoding": {"x": {"field": "hi", "type": "quantitative"}}},
        {"mark": {"type": "rule", "color": "#666", "strokeWidth": 0.5}, "encoding": {"x": {"field": "v", "type": "quantitative"}}},
        {"mark": {"type": "rule", "color": "#555", "strokeWidth": 0.7}, "encoding": {"x": {"field": "lo", "type": "quantitative"}, "x2": {"field": "hi"}, "y": {"field": "lv", "type": "quantitative"}}},
        {"mark": {"type": "text", "fontSize": 12, "fontWeight": "bold", "color": "#111"}, "encoding": {"x": {"field": "lx", "type": "quantitative"}, "y": {"field": "ly", "type": "quantitative"}, "text": {"field": "p"}}},
        {"mark": {"type": "text", "fontSize": 4.5, "baseline": "top", "dy": 1, "color": "#333"}, "encoding": {"x": {"field": "gx", "type": "quantitative"}, "y": {"field": "lv", "type": "quantitative"}, "text": {"field": "g"}}}
       ]
      }
     ]
    },
    {
     "width": 118, "height": 53,
     "title": {"text": "DC marker-dc  cd11c", "fontSize": 5, "fontWeight": "normal", "offset": 1, "color": "#333"},
     "layer": [
      {
       "data": {"values": [{"x":1.37,"c":2},{"x":1.4,"c":5},{"x":1.5,"c":20},{"x":1.6,"c":45},{"x":1.7,"c":70},{"x":1.75,"c":80},{"x":1.8,"c":88},{"x":1.85,"c":82},{"x":1.9,"c":95},{"x":1.95,"c":90},{"x":2,"c":100},{"x":2.05,"c":88},{"x":2.1,"c":92},{"x":2.15,"c":85},{"x":2.2,"c":95},{"x":2.25,"c":80},{"x":2.3,"c":86},{"x":2.4,"c":80},{"x":2.5,"c":75},{"x":2.6,"c":70},{"x":2.7,"c":60},{"x":2.8,"c":55},{"x":2.9,"c":45},{"x":3,"c":40},{"x":3.1,"c":32},{"x":3.2,"c":25},{"x":3.3,"c":20},{"x":3.4,"c":15},{"x":3.5,"c":10},{"x":3.6,"c":7},{"x":3.7,"c":4},{"x":3.8,"c":2},{"x":3.9,"c":1},{"x":4,"c":0}]},
       "mark": {"type": "area", "color": "#a3a3a3", "line": {"color": "#555", "strokeWidth": 0.5}},
       "encoding": {
        "x": {"field": "x", "type": "quantitative", "scale": {"domain": [1.37, 5.5], "nice": false, "zero": false}, "axis": {"title": "PE-A", "titleFontSize": 5, "titleFontWeight": "normal", "titlePadding": 1, "values": [2,3,4,5], "labelExpr": "datum.value==2?'10²':datum.value==3?'10³':datum.value==4?'10⁴':'10⁵'", "labelFontSize": 4, "tickSize": 2, "tickWidth": 0.5, "labelPadding": 0.5}},
        "y": {"field": "c", "type": "quantitative", "scale": {"domain": [0, 105], "nice": false}, "axis": {"title": "Count", "titleFontSize": 4.5, "titleFontWeight": "normal", "titlePadding": 1, "values": [0,20,40,60,80,100], "labelFontSize": 3, "tickSize": 2, "tickWidth": 0.5, "labelPadding": 0.5}}
       }
      },
      {
       "data": {"values": [{"lo":1.99,"hi":4.47,"lv":48,"p":"85.3%","lx":3.65,"ly":68,"g":"P2","gx":3.3}]},
       "layer": [
        {"mark": {"type": "rule", "color": "#555", "strokeWidth": 0.7}, "encoding": {"x": {"field": "lo", "type": "quantitative"}}},
        {"mark": {"type": "rule", "color": "#555", "strokeWidth": 0.7}, "encoding": {"x": {"field": "hi", "type": "quantitative"}}},
        {"mark": {"type": "rule", "color": "#555", "strokeWidth": 0.7}, "encoding": {"x": {"field": "lo", "type": "quantitative"}, "x2": {"field": "hi"}, "y": {"field": "lv", "type": "quantitative"}}},
        {"mark": {"type": "text", "fontSize": 12, "fontWeight": "bold", "color": "#111"}, "encoding": {"x": {"field": "lx", "type": "quantitative"}, "y": {"field": "ly", "type": "quantitative"}, "text": {"field": "p"}}},
        {"mark": {"type": "text", "fontSize": 4.5, "baseline": "top", "dy": 1, "color": "#333"}, "encoding": {"x": {"field": "gx", "type": "quantitative"}, "y": {"field": "lv", "type": "quantitative"}, "text": {"field": "g"}}}
       ]
      }
     ]
    }
   ]
  },
  {
   "width": 250, "height": 9,
   "view": {"stroke": null},
   "data": {"values": [{}]},
   "layer": [
    {"mark": {"type": "rule", "color": "black", "strokeWidth": 1.5}, "encoding": {"x": {"datum": -0.002, "type": "quantitative", "scale": {"domain": [0, 1]}, "axis": null}, "x2": {"datum": 0.48}, "y": {"datum": 0.9, "type": "quantitative", "scale": {"domain": [0, 1]}, "axis": null}}},
    {"mark": {"type": "point", "shape": "triangle-right", "filled": true, "color": "black", "size": 40, "opacity": 1}, "encoding": {"x": {"datum": 0.487, "type": "quantitative"}, "y": {"datum": 0.9, "type": "quantitative"}}},
    {"mark": {"type": "text", "text": "CD11c", "fontSize": 12, "fontWeight": "bold", "align": "left", "baseline": "middle"}, "encoding": {"x": {"datum": 0.515, "type": "quantitative"}, "y": {"datum": 0.9, "type": "quantitative"}}},
    {"mark": {"type": "text", "text": "B", "fontSize": 7, "fontWeight": "bold", "align": "left", "baseline": "bottom"}, "encoding": {"x": {"datum": -0.13, "type": "quantitative"}, "y": {"datum": 0, "type": "quantitative"}}}
   ]
  },
  {
   "data": {"name": "b"},
   "facet": {
    "row": {"field": "t", "type": "nominal", "sort": ["Isotype", "IMDM", "CpG", "rCPAF|+CpG", "UV-EB|+CpG"], "title": "Relative cell numbers",
     "header": {"labelOrient": "right", "labelAngle": 0, "labelFontSize": 11, "labelPadding": 7, "labelLineHeight": 13, "labelExpr": "split(datum.value, '|')", "titleOrient": "left", "titleFontSize": 19, "titleFontWeight": "normal", "titlePadding": 1}},
    "column": {"field": "m", "type": "nominal", "sort": ["CD86", "CD80", "CD40", "MHC II"], "title": "Fluorescence intensity",
     "header": {"labelOrient": "top", "labelFontSize": 14, "labelPadding": 0, "titleOrient": "bottom", "titleFontSize": 17, "titleFontWeight": "normal", "titlePadding": 0}}
   },
   "spacing": {"row": 3, "column": 2},
   "resolve": {"axis": {"x": "independent", "y": "independent"}},
   "spec": {
    "width": 81, "height": 32,
    "layer": [
     {
      "transform": [{"filter": "isValid(datum.c)"}],
      "mark": {"type": "area", "color": "#a3a3a3", "line": {"color": "#555", "strokeWidth": 0.5}},
      "encoding": {
       "x": {"field": "x", "type": "quantitative", "scale": {"domain": [1, 5.4], "nice": false, "zero": false}, "axis": {"title": null, "values": [2,3,4,5], "labelExpr": "datum.value==2?'10²':datum.value==3?'10³':datum.value==4?'10⁴':'10⁵'", "labelFontSize": 4, "tickSize": 2, "tickWidth": 0.5, "labelPadding": 0.5}},
       "y": {"field": "c", "type": "quantitative", "scale": {"domain": [0, 105], "nice": false}, "axis": {"title": "Count", "titleFontSize": 4.5, "titleFontWeight": "normal", "titlePadding": 1, "values": [0,20,40,60,80,100], "labelFontSize": 3, "tickSize": 2, "tickWidth": 0.5, "labelPadding": 0.5}}
      }
     },
     {"transform": [{"filter": "isValid(datum.lo)"}], "mark": {"type": "rule", "color": "#555", "strokeWidth": 0.7}, "encoding": {"x": {"field": "lo", "type": "quantitative"}}},
     {"transform": [{"filter": "isValid(datum.lo)"}], "mark": {"type": "rule", "color": "#555", "strokeWidth": 0.7}, "encoding": {"x": {"field": "hi", "type": "quantitative"}}},
     {"transform": [{"filter": "isValid(datum.lo)"}], "mark": {"type": "rule", "color": "#555", "strokeWidth": 0.7}, "encoding": {"x": {"field": "lo", "type": "quantitative"}, "x2": {"field": "hi"}, "y": {"field": "lv", "type": "quantitative"}}},
     {"transform": [{"filter": "isValid(datum.lo)"}], "mark": {"type": "text", "fontSize": 7.5, "fontWeight": "bold", "color": "#222"}, "encoding": {"x": {"field": "lx", "type": "quantitative"}, "y": {"field": "ly", "type": "quantitative"}, "text": {"field": "p"}}},
     {"transform": [{"filter": "isValid(datum.lo)"}], "mark": {"type": "text", "fontSize": 4, "baseline": "top", "dy": 1, "color": "#333"}, "encoding": {"x": {"field": "gx", "type": "quantitative"}, "y": {"field": "lv", "type": "quantitative"}, "text": {"field": "g"}}},
     {"transform": [{"filter": "isValid(datum.lo)"}], "mark": {"type": "text", "fontSize": 4.3, "baseline": "bottom", "dy": -1, "color": "#333"}, "encoding": {"x": {"datum": 3.2, "type": "quantitative"}, "y": {"datum": 105, "type": "quantitative"}, "text": {"field": "s"}}}
    ]
   }
  }
 ]
}
